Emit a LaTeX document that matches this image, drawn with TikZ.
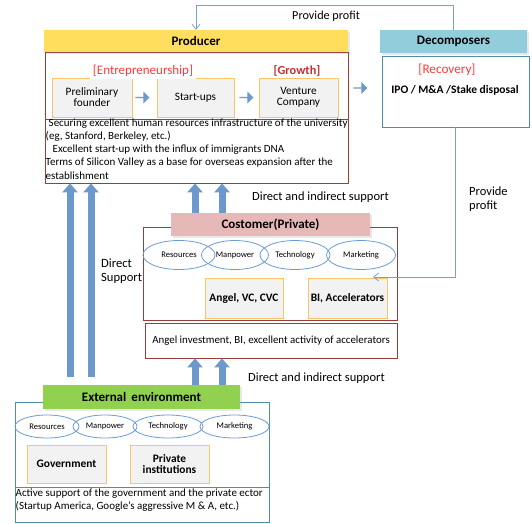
\documentclass[tikz,border=0pt]{standalone}
\usepackage{fontspec}
\setmainfont{Carlito}
\usetikzlibrary{arrows.meta,shapes.geometric,shapes.arrows,calc,shadows}
\definecolor{yhead}{HTML}{FFDE5E}
\definecolor{dhead}{HTML}{92CDDC}
\definecolor{chead}{HTML}{E6B8B7}
\definecolor{ehead}{HTML}{92D050}
\definecolor{dred}{HTML}{9B3B3A}
\definecolor{teal}{HTML}{4E8EA8}
\definecolor{orng}{HTML}{FAC46B}
\definecolor{subfill}{HTML}{F2F2F2}
\definecolor{ablue}{HTML}{6C98CB}
\definecolor{eblue}{HTML}{6A9BD6}
\definecolor{lblue}{HTML}{7BA0D0}
\definecolor{rtext}{HTML}{FF3B3B}
\definecolor{gtext}{HTML}{C0302F}
\tikzset{
  head/.style={rectangle, inner sep=0, font=\bfseries\fontsize{13}{15}\selectfont,
    drop shadow={opacity=0.18, shadow xshift=1.5pt, shadow yshift=-1.5pt}},
  frame/.style={rectangle, draw, inner sep=0, line width=0.8pt},
  subbox/.style={rectangle, draw=orng, fill=subfill, line width=1pt, inner sep=0, align=center, font=\fontsize{11.3}{13}\selectfont},
  boldsub/.style={subbox, font=\bfseries\fontsize{11.4}{13}\selectfont},
  ell/.style={ellipse, draw=eblue, line width=0.8pt, inner sep=0, font=\fontsize{8.6}{10}\selectfont},
  bigarrow/.style={draw=ablue, line width=7pt, -{Triangle[width=15pt,length=9pt]}},
  thinarrow/.style={draw=lblue, line width=0.8pt, -{Straight Barb[length=5pt,width=8pt]}},
  blockarr/.style={single arrow, fill=ablue, minimum height=14pt, minimum width=12pt, single arrow head extend=2pt, inner sep=0, single arrow tip angle=90},
  lbl/.style={inner sep=0, font=\fontsize{12.5}{14}\selectfont},
}
\begin{document}
\begin{tikzpicture}[x=1pt,y=-1pt]
\useasboundingbox (0,0) rectangle (532,523);
% Producer
\node[frame, draw=dred, minimum width=303, minimum height=131] (prodbox) at (196.5,117.5) {};
\node[frame, draw=dred, minimum width=303, minimum height=64] (prodtext) at (196.5,151) {};
\node[head, fill=yhead, minimum width=304, minimum height=22] (prodhead) at (196,41) {Producer};
\node[subbox, minimum width=80, minimum height=39] (pf) at (92,97.5) {Preliminary\\[-2pt]founder};
\node[subbox, minimum width=77, minimum height=39] (su) at (195.5,97.5) {Start-ups};
\node[subbox, minimum width=79, minimum height=39] (vc) at (298.5,97.5) {Venture\\[-2pt]Company};
\node[lbl, fill=white, text=rtext, inner xsep=3pt, inner ysep=2pt, font=\fontsize{13}{15}\selectfont] (entre) at (143,71) {[Entrepreneurship]};
\node[lbl, fill=white, text=gtext, font=\bfseries\fontsize{12.3}{14}\selectfont, inner xsep=5pt, inner ysep=2pt] (growth) at (297,71) {[Growth]};
\node[blockarr] (ar1) at (142,97.5) {};
\node[blockarr] (ar2) at (246,97.5) {};
\node[blockarr] (ar3) at (360,88) {};
\node[anchor=north west, inner sep=0, align=left, font=\fontsize{11}{13.2}\selectfont] (ptxt) at (45.5,118.5)
 {\hspace{3pt}Securing excellent human resources infrastructure of the university\\
  (eg, Stanford, Berkeley, etc.)\\
  \hspace{7pt}Excellent start-up with the influx of immigrants DNA\\
  Terms of Silicon Valley as a base for overseas expansion after the\\
  establishment};
% Decomposers
\node[frame, draw=teal, minimum width=147, minimum height=71] (decbox) at (455.5,91.5) {};
\node[head, fill=dhead, minimum width=147, minimum height=23] (dechead) at (453.5,41.5) {Decomposers};
\node[lbl, text=rtext, font=\fontsize{13.2}{15}\selectfont] (recov) at (447,70) {[Recovery]};
\node[inner sep=0, font=\bfseries\fontsize{11.5}{13}\selectfont] (ipo) at (455,90) {IPO / M\&A /Stake disposal};
% Provide profit (top)
\draw[thinarrow] (dechead.north) -- ++(0,-24) -| (prodhead.north);
\node[lbl, anchor=west, font=\fontsize{12.2}{14}\selectfont] (pp1) at (292,16) {Provide profit};
% Customer
\node[frame, draw=dred, minimum width=254, minimum height=93] (custbox) at (270,273.5) {};
\node[head, fill=chead, minimum width=199, minimum height=23] (custhead) at (270.5,224.5) {Costomer(Private)};
\node[ell, minimum width=72, minimum height=29] (ce1) at (179,255) {Resources};
\node[ell, minimum width=67, minimum height=29] (ce2) at (235,255) {Manpower};
\node[ell, minimum width=70, minimum height=29] (ce3) at (295,255) {Technology};
\node[ell, minimum width=69, minimum height=29] (ce4) at (361,255) {Marketing};
\node[boldsub, minimum width=78, minimum height=40] (avc) at (244,298) {Angel, VC, CVC};
\node[boldsub, minimum width=79, minimum height=40] (bia) at (347.5,298) {BI, Accelerators};
\node[frame, draw=dred, minimum width=252, minimum height=35, font=\fontsize{10.9}{12}\selectfont] (angel) at (271,340.5) {Angel investment, BI, excellent activity of accelerators};
% Provide profit (right)
\coordinate (cpt) at (373,277);
\draw[thinarrow] (decbox.south) |- (cpt);
\node[lbl, anchor=north west, align=left, font=\fontsize{12.5}{14}\selectfont] (pp2) at (469,187) {Provide\\profit};
% External environment
\node[frame, draw=teal, minimum width=254, minimum height=85] (extbox) at (142,444.5) {};
\node[frame, draw=teal, minimum width=254, minimum height=35] (exttext) at (142,504.5) {};
\node[head, fill=ehead, minimum width=197, minimum height=24] (exthead) at (141.5,397) {External\, environment};
\node[ell, minimum width=64, minimum height=23] (ee1) at (47,426.5) {Resources};
\node[ell, minimum width=64, minimum height=23] (ee2) at (105,426.5) {Manpower};
\node[ell, minimum width=70, minimum height=23] (ee3) at (168,426.5) {Technology};
\node[ell, minimum width=69, minimum height=23] (ee4) at (234.5,426.5) {Marketing};
\node[boldsub, minimum width=79, minimum height=38] (gov) at (66.5,464) {Government};
\node[boldsub, minimum width=79, minimum height=38] (priv) at (169.5,464) {Private\\[-2pt]institutions};
\node[anchor=north west, inner sep=0, align=left, font=\fontsize{11}{12.5}\selectfont] (etxt) at (15.5,489)
 {Active support of the government and the private ector\\(Startup America, Google's aggressive M \& A, etc.)};
% Big arrows
\coordinate (x1) at (195,0);
\coordinate (x2) at (222,0);
\coordinate (l1) at (70,0);
\coordinate (l2) at (91,0);
\draw[bigarrow] (custhead.north -| x1) -- (prodbox.south -| x1);
\draw[bigarrow] (custhead.north -| x2) -- (prodbox.south -| x2);
\draw[bigarrow] (exthead.north -| x1) -- (angel.south -| x1);
\draw[bigarrow] (exthead.north -| x2) -- (angel.south -| x2);
\draw[bigarrow, shorten <=8pt] (exthead.north -| l1) -- (prodbox.south -| l1);
\draw[bigarrow, shorten <=8pt] (exthead.north -| l2) -- (prodbox.south -| l2);
\node[lbl, anchor=west] (dis1) at (252,197) {Direct and indirect support};
\node[lbl, anchor=west] (dis2) at (248,378) {Direct and indirect support};
\node[lbl, anchor=north west, align=left, font=\fontsize{12.6}{14}\selectfont] (ds) at (101,259) {Direct\\Support};
\end{tikzpicture}
\end{document}
